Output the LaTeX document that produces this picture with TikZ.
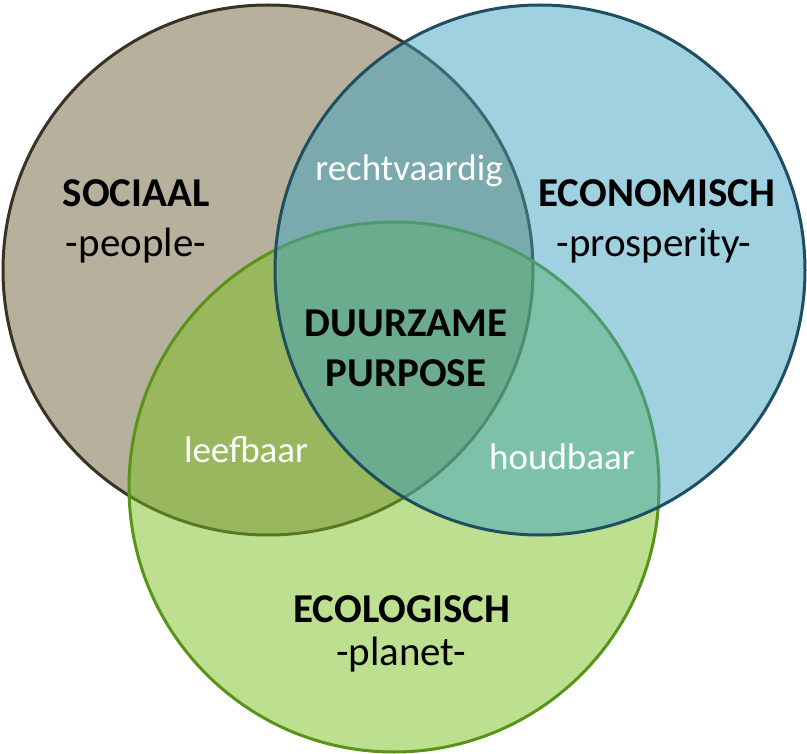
\documentclass[tikz,border=0pt]{standalone}
\usepackage{fontspec}
\setmainfont{Carlito}
\definecolor{socfill}{HTML}{6D6139}
\definecolor{socline}{HTML}{3A3222}
\definecolor{ecofill}{HTML}{3FA3C1}
\definecolor{ecoline}{HTML}{1F4E60}
\definecolor{plafill}{HTML}{7BBF21}
\definecolor{plaline}{HTML}{589418}
\tikzset{
  venn/.style={circle, minimum size=530pt, inner sep=0pt, outer sep=0pt, line width=3pt, fill opacity=0.5},
  title/.style={anchor=base, inner sep=0pt, font=\fontsize{41}{48}\selectfont\bfseries, text=black},
  sub/.style={anchor=base, inner sep=0pt, font=\fontsize{41}{48}\selectfont, text=black},
  inner/.style={anchor=base, inner sep=0pt, font=\fontsize{37}{44}\selectfont, text=white},
}
\begin{document}
\begin{tikzpicture}[x=1pt,y=-1pt]
\useasboundingbox (0,0) rectangle (807,754);
\node[venn, fill=socfill, draw=socline] (soc) at (268,270) {};
\node[venn, fill=plafill, draw=plaline] (pla) at (394,487) {};
\node[venn, fill=ecofill, draw=ecoline] (eco) at (540,270) {};
\node[title] (tsoc) at (136,207) {SOCIAAL};
\node[sub] (ssoc) at (136,257) {-people-};
\node[title] (teco) at (657,207) {ECONOMISCH};
\node[sub] (seco) at (654,257) {-prosperity-};
\node[title] (tpla) at (402,622) {ECOLOGISCH};
\node[sub] (spla) at (401,665) {-planet-};
\node[title] (dz1) at (406,337) {DUURZAME};
\node[title] (dz2) at (406,387) {PURPOSE};
\node[inner] (rv) at (409,181) {rechtvaardig};
\node[inner] (lb) at (246,463) {leefbaar};
\node[inner] (hb) at (562,469) {houdbaar};
\end{tikzpicture}
\end{document}
